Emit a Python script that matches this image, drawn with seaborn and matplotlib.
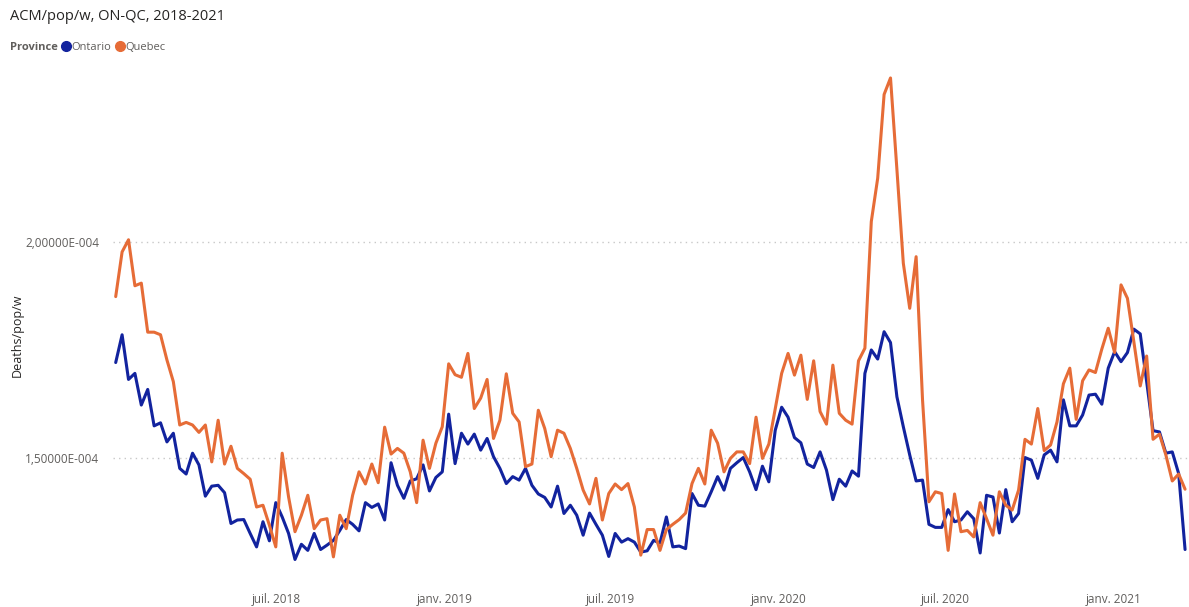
import pandas as pd
import matplotlib
matplotlib.use("Agg")
import matplotlib.pyplot as plt
import matplotlib.ticker as mticker
import matplotlib.dates as mdates
from matplotlib.lines import Line2D
import seaborn as sns

############### Data (weekly deaths per population, in units of 1e-4)
start_week = "2018-01-06"

ontario = [
    1.721, 1.785, 1.682, 1.696, 1.623, 1.659, 1.575, 1.582, 1.538, 1.558,
    1.477, 1.464, 1.512, 1.485, 1.413, 1.436, 1.438, 1.421, 1.350, 1.358,
    1.359, 1.327, 1.296, 1.354, 1.310, 1.398, 1.365, 1.327, 1.267, 1.302,
    1.288, 1.327, 1.290, 1.300, 1.311, 1.334, 1.359, 1.348, 1.333, 1.398,
    1.387, 1.395, 1.358, 1.490, 1.438, 1.408, 1.448, 1.453, 1.485, 1.425,
    1.456, 1.469, 1.602, 1.488, 1.558, 1.533, 1.556, 1.519, 1.546, 1.504,
    1.477, 1.442, 1.458, 1.450, 1.477, 1.438, 1.418, 1.410, 1.388, 1.436,
    1.373, 1.392, 1.369, 1.323, 1.374, 1.348, 1.323, 1.274, 1.327, 1.307,
    1.315, 1.307, 1.284, 1.287, 1.311, 1.305, 1.365, 1.296, 1.298, 1.292,
    1.419, 1.392, 1.390, 1.423, 1.458, 1.427, 1.477, 1.490, 1.502, 1.469,
    1.428, 1.482, 1.446, 1.565, 1.618, 1.595, 1.548, 1.536, 1.487, 1.479,
    1.515, 1.473, 1.405, 1.452, 1.436, 1.471, 1.459, 1.696, 1.750, 1.729,
    1.792, 1.767, 1.642, 1.573, 1.508, 1.448, 1.450, 1.348, 1.341, 1.341,
    1.382, 1.354, 1.358, 1.377, 1.361, 1.282, 1.415, 1.411, 1.328, 1.428,
    1.354, 1.373, 1.502, 1.496, 1.454, 1.508, 1.519, 1.492, 1.635, 1.575,
    1.575, 1.600, 1.646, 1.648, 1.625, 1.708, 1.746, 1.723, 1.744, 1.798,
    1.787, 1.677, 1.564, 1.561, 1.512, 1.515, 1.465, 1.290,
]

quebec = [
    1.873, 1.976, 2.004, 1.898, 1.904, 1.791, 1.791, 1.785, 1.727, 1.677,
    1.577, 1.583, 1.577, 1.560, 1.577, 1.492, 1.588, 1.487, 1.528, 1.477,
    1.465, 1.452, 1.388, 1.392, 1.346, 1.296, 1.512, 1.411, 1.331, 1.369,
    1.415, 1.338, 1.358, 1.361, 1.273, 1.369, 1.338, 1.415, 1.469, 1.441,
    1.487, 1.444, 1.572, 1.510, 1.523, 1.512, 1.469, 1.398, 1.542, 1.477,
    1.535, 1.573, 1.718, 1.693, 1.687, 1.742, 1.615, 1.639, 1.682, 1.546,
    1.588, 1.695, 1.604, 1.584, 1.481, 1.487, 1.611, 1.569, 1.504, 1.565,
    1.558, 1.523, 1.477, 1.427, 1.395, 1.454, 1.358, 1.419, 1.441, 1.428,
    1.442, 1.388, 1.277, 1.336, 1.336, 1.288, 1.336, 1.348, 1.359, 1.374,
    1.442, 1.477, 1.441, 1.565, 1.535, 1.469, 1.500, 1.515, 1.515, 1.488,
    1.595, 1.500, 1.533, 1.615, 1.696, 1.742, 1.692, 1.738, 1.636, 1.725,
    1.608, 1.579, 1.715, 1.604, 1.588, 1.579, 1.725, 1.754, 2.046, 2.146,
    2.339, 2.377, 2.166, 1.950, 1.846, 1.965, 1.635, 1.400, 1.423, 1.419,
    1.288, 1.418, 1.331, 1.334, 1.319, 1.398, 1.361, 1.323, 1.423, 1.392,
    1.381, 1.427, 1.544, 1.533, 1.615, 1.518, 1.531, 1.584, 1.672, 1.708,
    1.590, 1.679, 1.704, 1.698, 1.752, 1.800, 1.744, 1.900, 1.869, 1.769,
    1.667, 1.736, 1.544, 1.556, 1.508, 1.448, 1.464, 1.429,
]

provinces = ["Ontario", "Quebec"]
colors = ["#12239E", "#E66C37"]
month_names = {1: "janv.", 7: "juil."}
y_ticks = [1.5e-4, 2.0e-4]

############### Build long table
weeks = pd.date_range(start_week, periods=len(ontario), freq="7D")
df = pd.concat([
    pd.DataFrame({"date": weeks, "Province": "Ontario", "rate": [v * 1e-4 for v in ontario]}),
    pd.DataFrame({"date": weeks, "Province": "Quebec", "rate": [v * 1e-4 for v in quebec]}),
])

############### Plot
sns.set_style("white")
plt.rcParams["font.family"] = ["Open Sans", "DejaVu Sans"]

fig = plt.figure(figsize=(11.89, 6.07), dpi=100)
ax = fig.add_axes([0.095, 0.069, 0.904, 0.819])

sns.lineplot(data=df, x="date", y="rate", hue="Province", hue_order=provinces,
             palette=colors, linewidth=2.2, legend=False, ax=ax)

ax.set_xlim(weeks[0] - pd.Timedelta(days=3), weeks[-1] + pd.Timedelta(days=3))
ax.set_ylim(1.254e-4, 2.40e-4)

# y axis
ax.set_yticks(y_ticks)
ax.yaxis.set_major_formatter(mticker.FuncFormatter(
    lambda v, pos: f"{v:.5E}".replace(".", ",").replace("E-04", "E-004")))
ax.yaxis.grid(True, color="#C8C8C8", linestyle=(0, (1, 3)), linewidth=1)
ax.set_ylabel("")
fig.text(17 / 1189, 1 - 335 / 607, "Deaths/pop/w", rotation=90, fontsize=9,
         color="#252423", va="center", ha="center")

# x axis
ax.xaxis.set_major_locator(mdates.MonthLocator(bymonth=[1, 7]))
ax.xaxis.set_major_formatter(mticker.FuncFormatter(
    lambda v, pos: f"{month_names[mdates.num2date(v).month]} {mdates.num2date(v).year}"))
ax.set_xlabel("")
ax.tick_params(axis="both", length=0, labelsize=8.5, labelcolor="#605E5C")
ax.tick_params(axis="x", pad=20)
ax.tick_params(axis="y", pad=10)

for side in ax.spines.values():
    side.set_visible(False)

# title and legend
fig.text(10 / 1189, 1 - 17 / 607, "ACM/pop/w, ON-QC, 2018-2021",
         fontsize=10.5, color="#252423", va="center", ha="left")
fig.text(10 / 1189, 1 - 47 / 607, "Province", fontsize=8, fontweight="bold",
         color="#605E5C", va="center", ha="left")
handles = [Line2D([], [], linestyle="", marker="o", markersize=7, color=c) for c in colors]
fig.legend(handles, provinces, loc="center left",
           bbox_to_anchor=(62 / 1189, 1 - 47 / 607), ncol=2, frameon=False,
           handlelength=0.7, handletextpad=0.15, columnspacing=0.4,
           borderaxespad=0, borderpad=0, labelcolor="#605E5C",
           prop={"size": 8})

fig.savefig("out.png", dpi=100)
